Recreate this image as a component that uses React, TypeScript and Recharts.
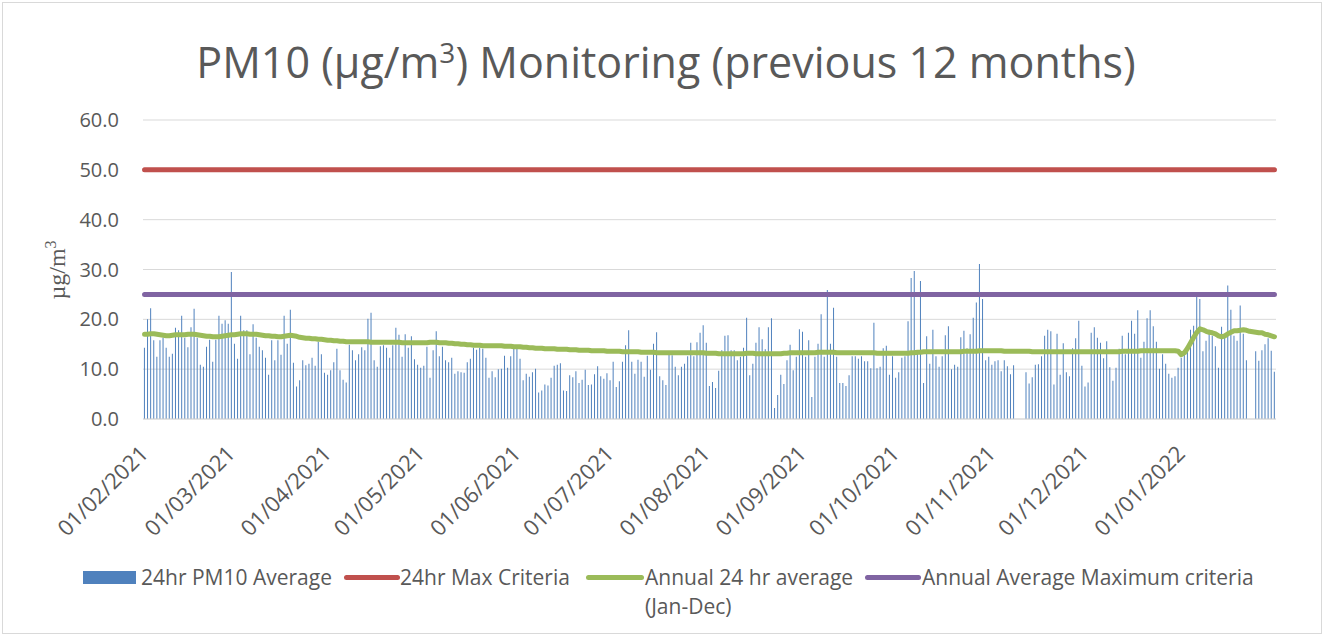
import { ComposedChart, Bar, Line, XAxis, YAxis, CartesianGrid } from "recharts";

// months shown on the axis (MM/YYYY), one value per day in each array below
const months = [
  "02/2021", "03/2021", "04/2021", "05/2021", "06/2021", "07/2021",
  "08/2021", "09/2021", "10/2021", "11/2021", "12/2021", "01/2022",
];

// 24hr PM10 average (null = no reading that day)
const pm10Feb21 = [14.3, 20, 22.2, 15.8, 12.5, 15.8, 16.3, 14.3, 12.5, 13.1, 18.3, 17.8, 20.7, 16.3, 14.4, 18.4, 22.1, 16.3, 10.9, 10.5, 14.5, 15.9, 11.5, 15.9, 20.7, 19.1, 19.8, 19.1];
const pm10Mar21 = [29.5, 15.1, 12.1, 20.7, 17.8, 17.8, 13, 19, 16.3, 14.5, 13.8, 12.3, 8.9, 15.8, 11.8, 15.8, 12.9, 20.7, 15.1, 21.9, 11.3, 6.5, 7.8, 11.8, 10.8, 11.1, 12.3, 10.7, 15.5, 13, 9.3];
const pm10Apr21 = [8.9, 9.8, 11.4, 14.1, 9.8, 7.9, 7.3, 14.9, 13.8, 11.8, 13, 14.4, 13.8, 20.1, 21.3, 11.8, 10.5, 14.6, 14.8, 14.3, 12.3, 14.8, 18.3, 16.9, 12.5, 17, 14.3, 16.6, 12, 10.9];
const pm10May21 = [10.3, 10.7, 14.5, 8.3, 13.8, 17.6, 12.6, 14.5, 11.8, 11.4, 12.3, 9.1, 9.6, 9.4, 9.3, 11.4, 12.1, 14.3, 13.9, 14.3, 14.1, 12.3, 8.3, 9.6, 8.4, 10, 10.1, 12.7, 10.3, 12.6, 14.1];
const pm10Jun21 = [14.1, 12.1, 7.8, 9.1, 8.5, 9.4, 10.1, 5.3, 5.7, 6.9, 6.7, 8.3, 10.7, 10.9, 11.2, 5.7, 5.6, 8.8, 8.4, 9.6, 7.2, 7.9, 9.9, 6.8, 6.9, 9, 10.6, 8.6, 8.1, 9.2];
const pm10Jul21 = [7.8, 11.5, 6.4, 7.6, 11.5, 14.8, 17.8, 11.5, 9.1, 11.9, 11.5, 8.5, 12.7, 9.9, 15.1, 17.4, 8.6, 7.8, 6.8, 13.5, 12.8, 10.5, 8.8, 10.5, 11.1, 12.6, 15.3, 12.6, 15.4, 17.3, 18.8];
const pm10Aug21 = [15.3, 6.6, 7.4, 6.2, 9.7, 13.8, 16.7, 16.8, 13.8, 13.8, 11.8, 12.5, 14.3, 20.3, 8.8, 11.1, 15.3, 18.4, 16, 14, 18.4, 20.2, 2.2, 4.8, 8.9, 7, 11.8, 14.9, 9.8, 12.5, 18];
const pm10Sep21 = [17.5, 12.5, 15.8, 4.4, 12.5, 15.1, 21, 12.5, 25.9, 15.1, 22.3, 12.5, 7.2, 7.2, 6.6, 8.8, 12.6, 12.6, 12.1, 12.6, 11.6, 11.6, 10.2, 19.3, 10.2, 10.5, 14.2, 14.7, 8.9, 12.6];
const pm10Oct21 = [8.3, 9.4, 12.3, 12.6, 19.6, 28.3, 29.7, 13.3, 27.7, 7.2, 16.6, 11.1, 17.9, 12.6, 10.5, 12.6, 16.8, 18.6, 10, 10.9, 10.5, 16.4, 17.7, 14.2, 17, 20.3, 23.4, 31.1, 24.1, 11.8, 12.5];
const pm10Nov21 = [10.9, 11.6, 11.8, 9.6, 11.8, 10.6, 9, 10.8, null, null, null, 9.4, 7.1, 8.4, 10.9, 11, 12.6, 16.7, 17.9, 17.6, 6.9, 17.1, 8.9, 15.2, 9.4, 8.6, 14.2, 16.2, 19.7, 10.7];
const pm10Dec21 = [6.5, 7.3, 17.3, 18.4, 16.3, 15.3, 12.2, 15.6, 10.4, 7.7, 10.3, 14.1, 16.7, 13, 17.3, 19.7, 17.1, 21.8, 12.3, 15.5, 20.2, 21.8, 18.6, 15.5, 10.1, 13, 11.1, 9.1, 8.3, 8.6, 10.3];
const pm10Jan22 = [12.3, 13.1, 14.5, 17.9, 18.7, 24.5, 24.1, 13.6, 15.7, 17.9, 16.7, 14.6, 10.3, 18.5, 16.7, 26.8, 21.9, 16.7, 15.7, 22.8, 17.1, 11.8, null, null, 13.6, 11.7, 13.8, 15, 16.2, 13.7, 9.5];

// annual 24 hr average (Jan-Dec)
const annualFeb21 = [17.0, 17.0, 17.1, 17.1, 17.0, 16.9, 16.8, 16.7, 16.7, 16.8, 16.9, 16.9, 16.9, 16.9, 17.0, 17.0, 17.0, 16.9, 16.8, 16.7, 16.6, 16.6, 16.5, 16.5, 16.5, 16.6, 16.7, 16.8];
const annualMar21 = [16.9, 16.9, 17.0, 17.1, 17.1, 17.1, 17.0, 17.0, 17.0, 16.9, 16.8, 16.7, 16.7, 16.6, 16.6, 16.5, 16.5, 16.6, 16.7, 16.8, 16.7, 16.6, 16.4, 16.3, 16.2, 16.2, 16.1, 16.1, 16.0, 16.0, 15.9];
const annualApr21 = [15.8, 15.8, 15.7, 15.7, 15.6, 15.6, 15.5, 15.5, 15.5, 15.5, 15.5, 15.5, 15.5, 15.5, 15.4, 15.4, 15.4, 15.4, 15.4, 15.4, 15.4, 15.4, 15.4, 15.4, 15.3, 15.3, 15.3, 15.3, 15.3, 15.3];
const annualMay21 = [15.3, 15.3, 15.3, 15.4, 15.4, 15.4, 15.3, 15.3, 15.3, 15.2, 15.2, 15.1, 15.1, 15.0, 15.0, 14.9, 14.9, 14.8, 14.8, 14.8, 14.7, 14.7, 14.7, 14.7, 14.7, 14.7, 14.7, 14.6, 14.6, 14.6, 14.5];
const annualJun21 = [14.5, 14.5, 14.4, 14.4, 14.3, 14.3, 14.2, 14.2, 14.2, 14.1, 14.1, 14.1, 14.1, 14.0, 14.0, 14.0, 14.0, 13.9, 13.9, 13.9, 13.8, 13.8, 13.8, 13.8, 13.7, 13.7, 13.7, 13.7, 13.7, 13.6];
const annualJul21 = [13.6, 13.6, 13.6, 13.6, 13.5, 13.5, 13.5, 13.5, 13.5, 13.5, 13.4, 13.4, 13.4, 13.4, 13.4, 13.3, 13.3, 13.3, 13.3, 13.3, 13.3, 13.3, 13.3, 13.3, 13.3, 13.3, 13.3, 13.3, 13.3, 13.3, 13.3];
const annualAug21 = [13.2, 13.2, 13.2, 13.2, 13.1, 13.1, 13.1, 13.1, 13.1, 13.1, 13.1, 13.1, 13.1, 13.2, 13.2, 13.2, 13.1, 13.1, 13.1, 13.1, 13.1, 13.1, 13.1, 13.1, 13.1, 13.2, 13.2, 13.3, 13.3, 13.3, 13.3];
const annualSep21 = [13.3, 13.3, 13.3, 13.3, 13.3, 13.4, 13.4, 13.4, 13.4, 13.4, 13.4, 13.3, 13.3, 13.3, 13.3, 13.3, 13.3, 13.3, 13.3, 13.3, 13.3, 13.3, 13.3, 13.3, 13.2, 13.2, 13.2, 13.2, 13.2, 13.2];
const annualOct21 = [13.2, 13.2, 13.2, 13.2, 13.2, 13.3, 13.3, 13.4, 13.4, 13.5, 13.5, 13.5, 13.5, 13.5, 13.5, 13.5, 13.5, 13.5, 13.5, 13.5, 13.5, 13.5, 13.6, 13.6, 13.6, 13.6, 13.6, 13.7, 13.7, 13.7, 13.7];
const annualNov21 = [13.7, 13.7, 13.7, 13.7, 13.6, 13.6, 13.6, 13.6, 13.6, 13.6, 13.6, 13.6, 13.6, 13.5, 13.5, 13.5, 13.5, 13.5, 13.5, 13.5, 13.5, 13.5, 13.5, 13.5, 13.5, 13.5, 13.5, 13.5, 13.5, 13.5];
const annualDec21 = [13.5, 13.5, 13.5, 13.5, 13.5, 13.5, 13.5, 13.5, 13.5, 13.5, 13.5, 13.5, 13.6, 13.6, 13.6, 13.6, 13.6, 13.6, 13.7, 13.7, 13.7, 13.7, 13.7, 13.7, 13.7, 13.7, 13.7, 13.7, 13.7, 13.7, 13.6];
const annualJan22 = [12.9, 13.3, 14.2, 15.3, 16.4, 17.4, 18.1, 17.9, 17.6, 17.4, 17.3, 17.1, 16.7, 16.5, 16.7, 17.1, 17.4, 17.7, 17.7, 17.8, 17.9, 17.8, 17.6, 17.5, 17.4, 17.3, 17.3, 17.0, 16.9, 16.7, 16.5];

const pm10ByMonth = [pm10Feb21, pm10Mar21, pm10Apr21, pm10May21, pm10Jun21, pm10Jul21, pm10Aug21, pm10Sep21, pm10Oct21, pm10Nov21, pm10Dec21, pm10Jan22];
const annualByMonth = [annualFeb21, annualMar21, annualApr21, annualMay21, annualJun21, annualJul21, annualAug21, annualSep21, annualOct21, annualNov21, annualDec21, annualJan22];

const MAX_24HR_CRITERIA = 50;
const ANNUAL_MAX_CRITERIA = 25;
const yTicks = [0, 10, 20, 30, 40, 50, 60];

const data = months.flatMap((month, i) =>
  pm10ByMonth[i].map((v, d) => ({
    date: `${String(d + 1).padStart(2, "0")}/${month}`,
    pm10: v,
    annual: annualByMonth[i][d],
    max24: MAX_24HR_CRITERIA,
    annualMax: ANNUAL_MAX_CRITERIA,
  }))
);

const FONT = "'Open Sans', sans-serif";
const TEXT = "#595959";

function DateTick(props: any) {
  const { x, y, payload } = props;
  if (!String(payload.value).startsWith("01/")) return <g />;
  const ax = x + 5;
  const ay = y + 36;
  return (
    <text
      x={ax}
      y={ay}
      transform={`rotate(-45, ${ax}, ${ay})`}
      textAnchor="end"
      fill={TEXT}
      fontSize={22}
      fontFamily={FONT}
    >
      {payload.value}
    </text>
  );
}

const legendText = { position: "absolute" as const, fontFamily: FONT, fontSize: 21, color: TEXT, lineHeight: "29px", whiteSpace: "nowrap" as const };
const legendLine = (left: number, width: number, color: string) => ({
  position: "absolute" as const, left, top: 575, width, height: 5, borderRadius: 3, background: color,
});

export default function App() {
  return (
    <div style={{ position: "absolute", left: 0, top: 0, width: 1328, height: 637, background: "#fff" }}>
      <div style={{ position: "absolute", left: 2, top: 2, width: 1318, height: 630, border: "1px solid #d9d9d9" }} />

      <div style={{ position: "absolute", left: 0, top: 40, width: 1332, textAlign: "center", fontFamily: FONT, fontSize: 43, lineHeight: "43px", color: TEXT, whiteSpace: "nowrap" }}>
        PM10 (µg/m<sup style={{ fontSize: 28, lineHeight: 0 }}>3</sup>) Monitoring (previous 12 months)
      </div>

      <div style={{ position: "absolute", left: 57, top: 270, transform: "translate(-50%, -50%) rotate(-90deg)", fontFamily: "'Liberation Serif', serif", fontSize: 24, color: TEXT, whiteSpace: "nowrap" }}>
        µg/m<sup style={{ fontSize: 16, lineHeight: 0 }}>3</sup>
      </div>

      <ComposedChart
        width={1328}
        height={637}
        data={data}
        margin={{ top: 120, right: 52, left: 0, bottom: 188 }}
        barCategoryGap="30%"
        style={{ position: "absolute", left: 0, top: 0 }}
      >
        <CartesianGrid vertical={false} stroke="#d9d9d9" />
        <XAxis
          dataKey="date"
          interval={0}
          tick={<DateTick />}
          tickLine={false}
          tickSize={0}
          tickMargin={0}
          height={30}
          axisLine={{ stroke: "#d9d9d9" }}
        />
        <YAxis
          type="number"
          domain={[0, 60]}
          ticks={yTicks}
          tickFormatter={(v: number) => v.toFixed(1)}
          width={143}
          tickLine={false}
          axisLine={false}
          tickSize={0}
          tickMargin={24}
          tick={{ fill: TEXT, fontSize: 20, fontFamily: FONT }}
        />
        <Bar dataKey="pm10" fill="#4f81bd" isAnimationActive={false} />
        <Line dataKey="max24" stroke="#c0504d" strokeWidth={5} strokeLinecap="round" dot={false} activeDot={false} isAnimationActive={false} />
        <Line dataKey="annualMax" stroke="#8064a2" strokeWidth={5} strokeLinecap="round" dot={false} activeDot={false} isAnimationActive={false} />
        <Line dataKey="annual" stroke="#9bbb59" strokeWidth={5} strokeLinecap="round" strokeLinejoin="round" dot={false} activeDot={false} isAnimationActive={false} />
      </ComposedChart>

      <div style={{ position: "absolute", left: 83, top: 571, width: 53, height: 13, background: "#4f81bd" }} />
      <div style={{ ...legendText, left: 141, top: 563 }}>24hr PM10 Average</div>
      <div style={legendLine(344, 56, "#c0504d")} />
      <div style={{ ...legendText, left: 400, top: 563 }}>24hr Max Criteria</div>
      <div style={legendLine(586, 58, "#9bbb59")} />
      <div style={{ ...legendText, left: 645, top: 563 }}>Annual 24 hr average<br />(Jan-Dec)</div>
      <div style={legendLine(865, 56, "#8064a2")} />
      <div style={{ ...legendText, left: 922, top: 563 }}>Annual Average Maximum criteria</div>
    </div>
  );
}
